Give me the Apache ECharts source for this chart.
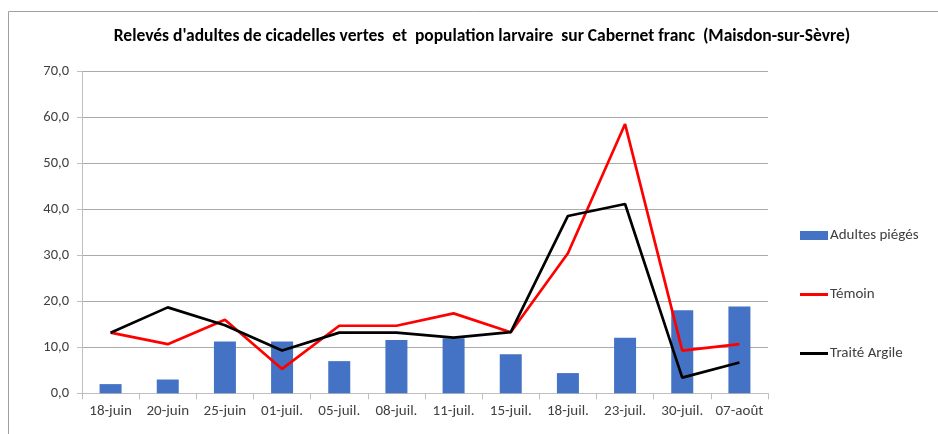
<!DOCTYPE html>
<html><head><meta charset="utf-8">
<script src="https://cdn.jsdelivr.net/npm/echarts@6/dist/echarts.min.js"></script>
<style>html,body{margin:0;padding:0;background:#fff}#c{width:938px;height:434px}</style>
</head><body><div id="c"></div>
<script>
const categories = ['18-juin','20-juin','25-juin','01-juil.','05-juil.','08-juil.','11-juil.','15-juil.','18-juil.','23-juil.','30-juil.','07-août'];
const adultes = [2.0, 3.0, 11.3, 11.3, 7.0, 11.6, 12.0, 8.5, 4.4, 12.1, 18.1, 18.9];
const temoin = [13.2, 10.7, 16.0, 5.3, 14.7, 14.7, 17.4, 13.3, 30.5, 58.6, 9.3, 10.7];
const argile = [13.2, 18.7, 14.8, 9.3, 13.2, 13.2, 12.1, 13.3, 38.6, 41.2, 3.4, 6.7];
const yTicks = {min: 0, max: 70, interval: 10};

const FONT = 'Carlito, Calibri, "Noto Sans", sans-serif';
const chart = echarts.init(document.getElementById('c'), null, {renderer: 'canvas'});
const legendBase = {orient: 'vertical', left: 800, padding: 0, itemWidth: 28, itemGap: 4,
  textStyle: {fontFamily: FONT, fontSize: 15, color: '#404040', padding: [0,0,0,-3]}, selectedMode: false};
chart.setOption({
  animation: false,
  backgroundColor: '#fff',
  textStyle: {fontFamily: FONT},
  title: {text: "Relevés d'adultes de cicadelles vertes  et  population larvaire  sur Cabernet franc  (Maisdon-sur-Sèvre)",
    left: 477, top: 23, textAlign: 'center',
    textStyle: {fontFamily: FONT, fontSize: 17.5, fontWeight: 'bold', color: '#000'}},
  graphic: [
    {type: 'polyline', shape: {points: [[8.5, 434], [8.5, 11.5], [938, 11.5]]}, style: {stroke: '#a0a0a0', lineWidth: 1, fill: null}, silent: true}
  ],
  legend: [
    Object.assign({}, legendBase, {top: 228, itemHeight: 9, data: [{name: 'Adultes piégés', icon: 'rect'}]}),
    Object.assign({}, legendBase, {top: 287, itemHeight: 3, data: [{name: 'Témoin', icon: 'rect', itemStyle: {color: '#ff0000'}}]}),
    Object.assign({}, legendBase, {top: 346, itemHeight: 3, data: [{name: 'Traité Argile', icon: 'rect', itemStyle: {color: '#000000'}}]})
  ],
  grid: {left: 82, right: 170, top: 71.7, bottom: 40.7, containLabel: false},
  xAxis: {type: 'category', data: categories, boundaryGap: true,
    axisLine: {lineStyle: {color: '#bfbfbf', width: 1}},
    axisTick: {show: true, alignWithLabel: false, length: 6, lineStyle: {color: '#bfbfbf'}},
    axisLabel: {fontFamily: FONT, fontSize: 15, color: '#404040', margin: 10, interval: 0}},
  yAxis: {type: 'value', min: yTicks.min, max: yTicks.max, interval: yTicks.interval,
    axisLine: {show: true, lineStyle: {color: '#bfbfbf', width: 1}},
    axisTick: {show: true, length: 5, lineStyle: {color: '#bfbfbf'}},
    splitLine: {lineStyle: {color: '#aaaaaa', width: 1}},
    axisLabel: {fontFamily: FONT, fontSize: 14.5, color: '#404040', margin: 13,
      formatter: v => v.toFixed(1).replace('.', ',')}},
  series: [
    {name: 'Adultes piégés', type: 'bar', data: adultes, barWidth: 22, itemStyle: {color: '#4472c4'}},
    {name: 'Témoin', type: 'line', data: temoin, symbol: 'none', lineStyle: {color: '#ff0000', width: 2.7}, itemStyle: {color: '#ff0000'}},
    {name: 'Traité Argile', type: 'line', data: argile, symbol: 'none', lineStyle: {color: '#000000', width: 2.7}, itemStyle: {color: '#000000'}}
  ]
});
</script></body></html>
